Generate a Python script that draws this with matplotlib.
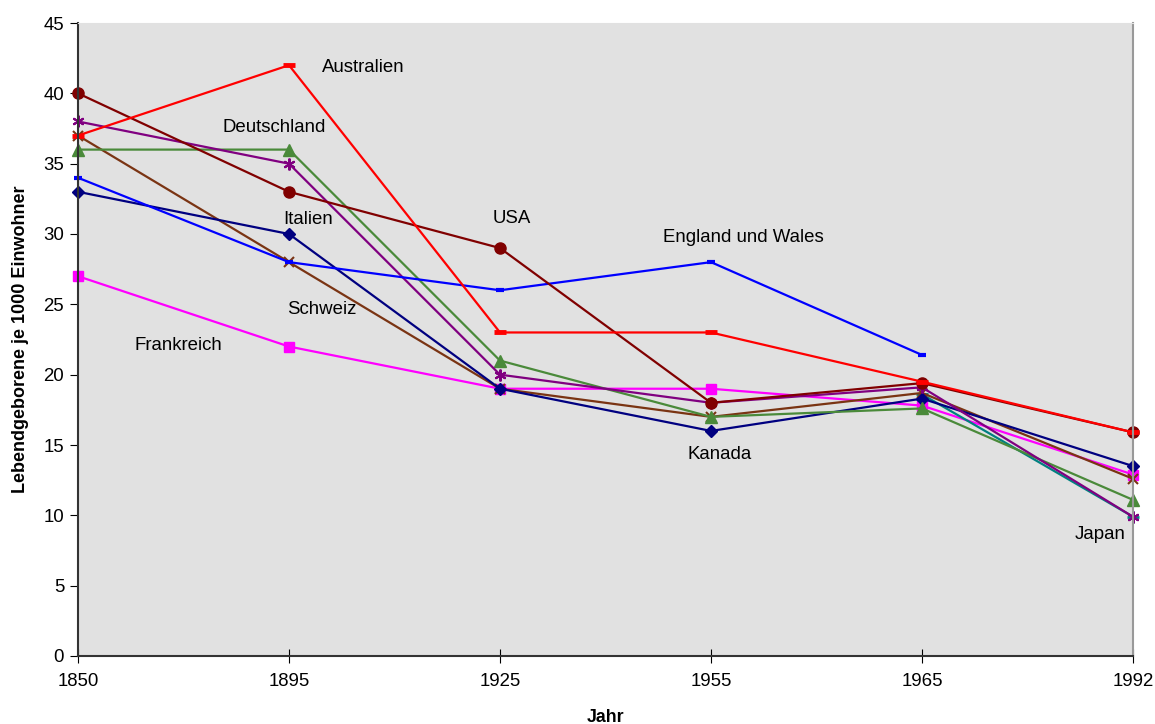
import numpy as np
import matplotlib.pyplot as plt

plt.rcParams['font.family'] = ['Liberation Sans', 'DejaVu Sans']

years = ['1850', '1895', '1925', '1955', '1965', '1992']

australien = [37, 42, 23, 23, 19.5, 15.9]
deutschland = [36, 36, 21, 17, 17.6, 11.1]
italien = [33, 30, 19, 16, 18.3, 13.5]
usa = [40, 33, 29, 18, 19.4, 15.9]
england = [34, 28, 26, 28, 21.4, np.nan]
schweiz = [37, 28, 19, 17, 18.7, 12.6]
frankreich = [27, 22, 19, 19, 17.8, 12.9]
kanada = [np.nan, np.nan, np.nan, np.nan, 18.6, 9.9]
japan = [38, 35, 20, 18, 19.1, 9.9]

x = np.arange(len(years))

fig = plt.figure(figsize=(11.55, 7.24), dpi=100)
ax = fig.add_axes([78 / 1155, 1 - 656 / 724, (1133 - 78) / 1155, (656 - 23) / 724])
ax.set_facecolor('#e1e1e1')

lw = 1.6
ax.plot(x, frankreich, color='#ff00ff', marker='s', ms=7.5, lw=lw, clip_on=False)
ax.plot(x, kanada, color='#008080', marker='+', ms=9, mew=2, lw=lw, clip_on=False)
ax.plot(x, schweiz, color='#7a3413', marker='x', ms=7.5, mew=1.5, lw=lw, clip_on=False)
ax.plot(x, italien, color='#000080', marker='D', ms=6, lw=lw, clip_on=False)
ax.plot(x, deutschland, color='#4a8a3a', marker='^', ms=8, lw=lw, clip_on=False)
ax.plot(x, japan, color='#800080', marker=(6, 2, 0), ms=8.5, mew=1.5, lw=lw, clip_on=False)
ax.plot(x, england, color='#0000ff', marker='_', ms=6, mew=3, lw=lw, clip_on=False)
ax.plot(x, usa, color='#800000', marker='o', ms=8, lw=lw, clip_on=False)
ax.plot(x, australien, color='#ff0000', marker='_', ms=8, mew=3.5, lw=lw, clip_on=False)

# country names written next to their curves
labels = [
    ('Australien', 1.156, 41.86),
    ('Deutschland', 0.687, 37.6),
    ('Italien', 0.972, 31.06),
    ('USA', 1.967, 31.13),
    ('England und Wales', 2.773, 29.78),
    ('Schweiz', 0.99, 24.6),
    ('Frankreich', 0.27, 22.1),
    ('Kanada', 2.89, 14.29),
    ('Japan', 4.725, 8.67),
]
for name, tx, ty in labels:
    ax.text(tx, ty, name, fontsize=13.4, ha='left', va='center', color='black')

ax.set_xlim(0, len(years) - 1)
ax.set_ylim(0, 45)
ax.set_xticks(x)
ax.set_xticklabels(years, fontsize=13.4)
ax.set_yticks(np.arange(0, 46, 5))
ax.tick_params(axis='y', direction='out', length=6, labelsize=13.4, pad=4)
ax.tick_params(axis='x', direction='inout', length=10, labelsize=13.4, pad=7)

for side in ['left', 'bottom']:
    ax.spines[side].set_color('#333333')
    ax.spines[side].set_linewidth(1.5)
ax.spines['right'].set_color('#999999')
ax.spines['right'].set_linewidth(1.5)
ax.spines['top'].set_color('#e1e1e1')

ax.set_xlabel('Jahr', fontsize=12.8, fontweight='bold', labelpad=14)
ax.set_ylabel('Lebendgeborene je 1000 Einwohner', fontsize=13, fontweight='bold', labelpad=10)

fig.savefig('out.png', dpi=100)
